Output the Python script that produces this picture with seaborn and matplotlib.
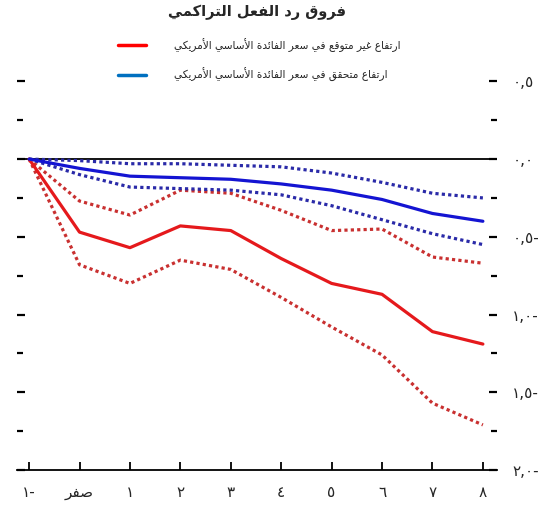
import matplotlib
matplotlib.use("Agg")
import matplotlib.pyplot as plt
from matplotlib.lines import Line2D
from matplotlib.ticker import MultipleLocator
import seaborn as sns
import pandas as pd

# data
periods = [-1, 0, 1, 2, 3, 4, 5, 6, 7, 8]
red_mid = [0, -0.47, -0.57, -0.43, -0.46, -0.64, -0.80, -0.87, -1.11, -1.19]
red_hi = [0, -0.27, -0.36, -0.20, -0.22, -0.33, -0.46, -0.45, -0.63, -0.67]
red_lo = [0, -0.68, -0.80, -0.65, -0.71, -0.89, -1.08, -1.26, -1.57, -1.71]
blue_mid = [0, -0.06, -0.11, -0.12, -0.13, -0.16, -0.20, -0.26, -0.35, -0.40]
blue_hi = [0, -0.01, -0.03, -0.03, -0.04, -0.05, -0.09, -0.15, -0.22, -0.25]
blue_lo = [0, -0.10, -0.18, -0.19, -0.20, -0.23, -0.30, -0.39, -0.48, -0.55]

x_labels = ["-١", "صفر", "١", "٢", "٣", "٤", "٥", "٦", "٧", "٨"]
y_ticks = [0.5, 0.0, -0.5, -1.0, -1.5, -2.0]
y_labels = ["٠,٥", "٠,٠", "-٠,٥", "-١,٠", "-١,٥", "-٢,٠"]

title = "فروق رد الفعل التراكمي"
legend_labels = [
    "ارتفاع غير متوقع في سعر الفائدة الأساسي الأمريكي",
    "ارتفاع متحقق في سعر الفائدة الأساسي الأمريكي",
]

# --- tiny arabic shaper (matplotlib has no complex text layout) ---
FORMS = {
    "ا": ("\ufe8d", "\ufe8e"), "أ": ("\ufe83", "\ufe84"),
    "ر": ("\ufead", "\ufeae"), "د": ("\ufea9", "\ufeaa"),
    "و": ("\ufeed", "\ufeee"), "ة": ("\ufe93", "\ufe94"),
    "ت": ("\ufe95", "\ufe96", "\ufe97", "\ufe98"),
    "ف": ("\ufed1", "\ufed2", "\ufed3", "\ufed4"),
    "ع": ("\ufec9", "\ufeca", "\ufecb", "\ufecc"),
    "غ": ("\ufecd", "\ufece", "\ufecf", "\ufed0"),
    "ي": ("\ufef1", "\ufef2", "\ufef3", "\ufef4"),
    "م": ("\ufee1", "\ufee2", "\ufee3", "\ufee4"),
    "ق": ("\ufed5", "\ufed6", "\ufed7", "\ufed8"),
    "ك": ("\ufed9", "\ufeda", "\ufedb", "\ufedc"),
    "ح": ("\ufea1", "\ufea2", "\ufea3", "\ufea4"),
    "س": ("\ufeb1", "\ufeb2", "\ufeb3", "\ufeb4"),
    "ل": ("\ufedd", "\ufede", "\ufedf", "\ufee0"),
    "ئ": ("\ufe89", "\ufe8a", "\ufe8b", "\ufe8c"),
    "ص": ("\ufeb9", "\ufeba", "\ufebb", "\ufebc"),
}
LAM_ALEF = {"ا": ("\ufefb", "\ufefc"), "أ": ("\ufef7", "\ufef8")}
DIGITS = set("٠١٢٣٤٥٦٧٨٩,")


def ar(s):
    out = []
    i = 0
    while i < len(s):
        c = s[i]
        if c not in FORMS:
            out.append(c)
            i += 1
            continue
        prev = s[i - 1] if i > 0 else ""
        pc = prev in FORMS and len(FORMS[prev]) == 4
        if c == "ل" and i + 1 < len(s) and s[i + 1] in LAM_ALEF:
            out.append(LAM_ALEF[s[i + 1]][1 if pc else 0])
            i += 2
            continue
        nxt = s[i + 1] if i + 1 < len(s) else ""
        nc = len(FORMS[c]) == 4 and nxt in FORMS
        f = FORMS[c]
        out.append(f[3] if pc and nc else f[1] if pc else f[2] if nc else f[0])
        i += 1
    # visual order: reverse, but keep digit runs left to right
    runs = []
    for ch in out:
        if ch in DIGITS and runs and runs[-1][0] in DIGITS:
            runs[-1] += ch
        else:
            runs.append(ch)
    return "".join(runs[::-1])


sns.set_theme(style="white")
plt.rcParams["font.family"] = ["DejaVu Sans"]

fig = plt.figure(figsize=(5.45, 5.08), dpi=100)
ax = fig.add_axes([17 / 545, 38 / 508, 480 / 545, 398 / 508])

series = [
    (red_hi, "#c93030", (1, 1)),
    (red_lo, "#c93030", (1, 1)),
    (blue_hi, "#2a2aa8", (1, 1)),
    (blue_lo, "#2a2aa8", (1, 1)),
    (red_mid, "#e5191c", ""),
    (blue_mid, "#1414d2", ""),
]
for vals, col, dash in series:
    df = pd.DataFrame({"period": periods, "value": vals})
    sns.lineplot(data=df, x="period", y="value", ax=ax, color=col,
                 linewidth=2.3, dashes=False)
    if dash:
        ax.lines[-1].set_dashes(dash)
        ax.lines[-1].set_dash_capstyle("butt")

ax.axhline(0, color="black", linewidth=1.3, zorder=1)

ax.set_xlim(-1.24, 8.28)
ax.set_ylim(-2.0, 0.56)
ax.set_xticks(periods)
ax.set_xticklabels([ar(t) for t in x_labels], fontsize=11)
ax.set_yticks(y_ticks)
ax.set_yticklabels([ar(t) for t in y_labels], fontsize=11)
ax.yaxis.set_minor_locator(MultipleLocator(0.25))
ax.set_xlabel("")
ax.set_ylabel("")

for side in ["left", "right", "top"]:
    ax.spines[side].set_visible(False)
ax.spines["bottom"].set_color("black")
ax.spines["bottom"].set_linewidth(1.3)

ax.tick_params(axis="y", which="both", left=True, right=True,
               labelleft=False, labelright=True, direction="in",
               color="black", pad=11)
ax.tick_params(axis="y", which="major", length=6, width=1.6)
ax.tick_params(axis="y", which="minor", length=4, width=1.6)
ax.tick_params(axis="x", which="major", bottom=True, direction="in",
               length=6, width=1.3, color="black", pad=11)

fig.text(0.472, 0.975, ar(title), ha="center", va="center",
         fontsize=10.5, fontweight="bold")

legend_cols = ["#ff0000", "#0070c0"]
for k, (lab, col) in enumerate(zip(legend_labels, legend_cols)):
    yy = 1 - (45 + 30 * k) / 508
    fig.add_artist(Line2D([118 / 545, 146 / 545], [yy, yy], color=col,
                          linewidth=2.5, transform=fig.transFigure))
    fig.text(174 / 545, yy, ar(lab), ha="left", va="center", fontsize=7.6)

plt.savefig("out.png", dpi=100)
